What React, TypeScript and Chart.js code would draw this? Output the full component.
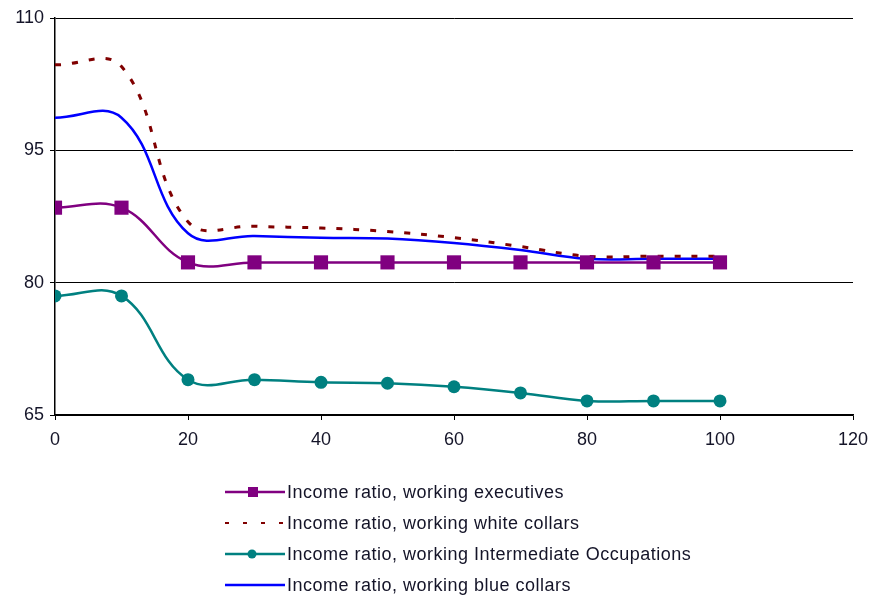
import React, { useEffect, useRef } from "react";
import { Chart, registerables } from "chart.js";

Chart.register(...registerables);

const xValues = [0, 10, 20, 30, 40, 50, 60, 70, 80, 90, 100];
const executives = [88.5, 88.5, 82.3, 82.3, 82.3, 82.3, 82.3, 82.3, 82.3, 82.3, 82.3];
const whiteCollars = [104.7, 104.5, 86.9, 86.4, 86.2, 85.8, 85.1, 84.1, 83.0, 83.0, 83.0];
const intermediate = [78.5, 78.5, 69.0, 69.0, 68.7, 68.6, 68.2, 67.5, 66.6, 66.6, 66.6];
const blueCollars = [98.7, 98.7, 85.6, 85.3, 85.1, 85.0, 84.5, 83.7, 82.7, 82.7, 82.7];

const seriesLabels = [
  "Income ratio, working executives",
  "Income ratio, working white collars",
  "Income ratio, working Intermediate Occupations",
  "Income ratio, working blue collars",
];

const FONT = "'Liberation Sans', Arial, sans-serif";
const TEXT = "#141428";

const toPoints = (ys: number[]) => xValues.map((x, i) => ({ x, y: ys[i] }));

const legendPlugin = {
  id: "customLegend",
  afterDraw(chart: any) {
    const ctx = chart.ctx as CanvasRenderingContext2D;
    const x0 = 225;
    const x1 = 285;
    const rows = [492, 523, 554, 585];
    ctx.save();
    // row 1: executives
    ctx.strokeStyle = "#800080";
    ctx.lineWidth = 2.5;
    ctx.beginPath();
    ctx.moveTo(x0, rows[0]);
    ctx.lineTo(x1, rows[0]);
    ctx.stroke();
    ctx.fillStyle = "#800080";
    ctx.fillRect(253 - 5, rows[0] - 5, 10, 10);
    // row 2: white collars dashed
    ctx.strokeStyle = "#800000";
    ctx.lineWidth = 1.8;
    ctx.setLineDash([4, 14]);
    ctx.beginPath();
    ctx.moveTo(x0, rows[1]);
    ctx.lineTo(x1, rows[1]);
    ctx.stroke();
    ctx.setLineDash([]);
    // row 3: intermediate
    ctx.strokeStyle = "#008080";
    ctx.lineWidth = 2.5;
    ctx.beginPath();
    ctx.moveTo(x0, rows[2]);
    ctx.lineTo(x1, rows[2]);
    ctx.stroke();
    ctx.fillStyle = "#008080";
    ctx.beginPath();
    ctx.arc(252, rows[2], 4.5, 0, Math.PI * 2);
    ctx.fill();
    // row 4: blue collars
    ctx.strokeStyle = "#0000FF";
    ctx.lineWidth = 2.5;
    ctx.beginPath();
    ctx.moveTo(x0, rows[3]);
    ctx.lineTo(x1, rows[3]);
    ctx.stroke();
    // texts
    ctx.fillStyle = TEXT;
    ctx.font = `18px ${FONT}`;
    (ctx as any).letterSpacing = "0.5px";
    ctx.textBaseline = "middle";
    ctx.textAlign = "left";
    seriesLabels.forEach((t, i) => ctx.fillText(t, 287, rows[i] + 1));
    ctx.restore();
  },
};

export default function App() {
  const ref = useRef<HTMLCanvasElement | null>(null);

  useEffect(() => {
    if (!ref.current) return;
    const chart = new Chart(ref.current, {
      type: "line",
      data: {
        datasets: [
          {
            label: seriesLabels[0],
            data: toPoints(executives),
            borderColor: "#800080",
            backgroundColor: "#800080",
            borderWidth: 2.5,
            pointStyle: "rect",
            pointRadius: 10,
            pointBorderWidth: 0,
            tension: 0.4,
          },
          {
            label: seriesLabels[1],
            data: toPoints(whiteCollars),
            borderColor: "#800000",
            backgroundColor: "#800000",
            borderWidth: 3,
            borderDash: [6, 11],
            pointRadius: 0,
            tension: 0.4,
          },
          {
            label: seriesLabels[2],
            data: toPoints(intermediate),
            borderColor: "#008080",
            backgroundColor: "#008080",
            borderWidth: 2.5,
            pointStyle: "circle",
            pointRadius: 6.5,
            pointBorderWidth: 0,
            tension: 0.4,
          },
          {
            label: seriesLabels[3],
            data: toPoints(blueCollars),
            borderColor: "#0000FF",
            backgroundColor: "#0000FF",
            borderWidth: 2.5,
            pointRadius: 0,
            tension: 0.4,
          },
        ],
      },
      options: {
        responsive: false,
        animation: false,
        layout: { padding: { top: 18, right: 19, left: 0, bottom: 0 } },
        plugins: {
          legend: { display: false },
          tooltip: { enabled: false },
        },
        scales: {
          x: {
            type: "linear",
            min: 0,
            max: 120,
            ticks: { stepSize: 20, color: TEXT, font: { size: 18, family: FONT }, padding: 9 },
            grid: { drawOnChartArea: false, drawTicks: true, tickLength: 5, color: "#000" },
            border: { color: "#000", width: 1.5 },
            afterFit: (s: any) => {
              s.height = 180;
              s.paddingRight = 0;
              s.paddingLeft = 0;
            },
          },
          y: {
            min: 65,
            max: 110,
            ticks: { stepSize: 15, color: TEXT, font: { size: 18, family: FONT }, padding: 6 },
            grid: { color: "#000", tickLength: 5, lineWidth: 1 },
            border: { color: "#000", width: 1.5 },
            afterFit: (s: any) => {
              s.width = 55;
              s.paddingTop = 0;
              s.paddingBottom = 0;
            },
          },
        },
      },
      plugins: [legendPlugin],
    } as any);
    return () => chart.destroy();
  }, []);

  return (
    <div style={{ position: "fixed", left: 0, top: 0, width: 872, height: 595, background: "#fff" }}>
      <canvas ref={ref} width={872} height={595} />
    </div>
  );
}
